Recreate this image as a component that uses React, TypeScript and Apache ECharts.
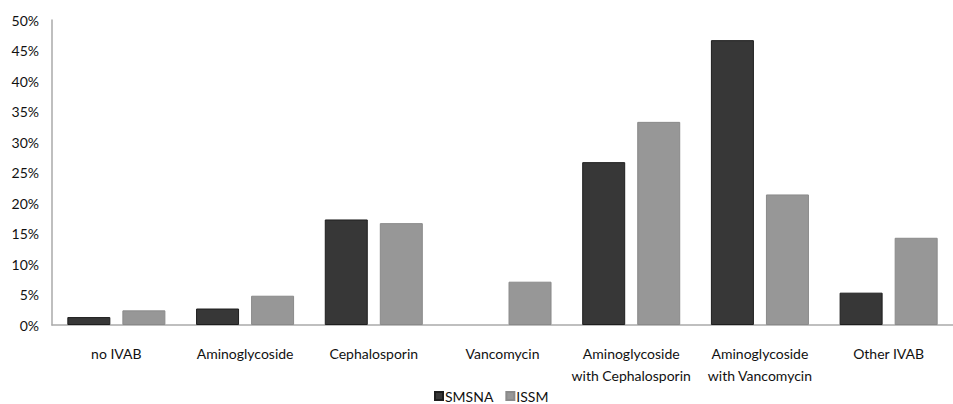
import React, { useEffect, useRef } from "react";
import * as echarts from "echarts";

const categories = [
  "no IVAB",
  "Aminoglycoside",
  "Cephalosporin",
  "Vancomycin",
  "Aminoglycoside\nwith Cephalosporin",
  "Aminoglycoside\nwith Vancomycin",
  "Other IVAB",
];
const smsnaValues = [1.3, 2.7, 17.3, 0, 26.7, 46.7, 5.3];
const issmValues = [2.4, 4.8, 16.7, 7.1, 33.3, 21.4, 14.3];
const seriesNames = ["SMSNA", "ISSM"];

const FONT = "Lato, 'Open Sans', sans-serif";

const toData = (vals: number[]) =>
  vals.map((v) => (v === 0 ? { value: v, itemStyle: { borderWidth: 0, opacity: 0 } } : v));

export default function App() {
  const ref = useRef<HTMLDivElement>(null);
  useEffect(() => {
    document.body.style.margin = "0";
    const chart = echarts.init(ref.current!, null, { renderer: "svg" });
    chart.setOption({
      animation: false,
      backgroundColor: "#ffffff",
      textStyle: { fontFamily: FONT },
      grid: { left: 52, right: 0, top: 20, bottom: 79 },
      legend: {
        top: 388,
        left: 434,
        padding: 0,
        itemWidth: 8,
        itemHeight: 8,
        itemGap: 12,
        icon: "rect",
        textStyle: {
          fontFamily: FONT,
          fontSize: 14,
          lineHeight: 16,
          color: "#111",
          padding: [0, 0, 0, -3],
        },
        data: seriesNames,
      },
      xAxis: {
        type: "category",
        data: categories,
        axisLine: { lineStyle: { color: "#aaaaaa", width: 1.5 } },
        axisTick: { show: false },
        axisLabel: {
          fontFamily: FONT,
          fontSize: 14,
          color: "#111",
          margin: 17,
          lineHeight: 22,
          interval: 0,
        },
      },
      yAxis: {
        type: "value",
        min: 0,
        max: 50,
        interval: 5,
        axisLine: { show: true, lineStyle: { color: "#aaaaaa", width: 1.5 } },
        axisTick: { show: false },
        splitLine: { show: false },
        axisLabel: {
          formatter: "{value}%",
          fontFamily: FONT,
          fontSize: 14,
          color: "#111",
          margin: 13,
        },
      },
      series: [
        {
          name: seriesNames[0],
          type: "bar",
          data: toData(smsnaValues),
          barWidth: 43,
          barGap: "28%",
          itemStyle: { color: "#373737", borderColor: "#1e1e1e", borderWidth: 1 },
        },
        {
          name: seriesNames[1],
          type: "bar",
          data: toData(issmValues),
          barWidth: 43,
          itemStyle: { color: "#979797", borderColor: "#8a8a8a", borderWidth: 1 },
        },
      ],
    });
    return () => chart.dispose();
  }, []);
  return (
    <div
      ref={ref}
      style={{ width: 953, height: 404, position: "absolute", left: 0, top: 0 }}
    />
  );
}
